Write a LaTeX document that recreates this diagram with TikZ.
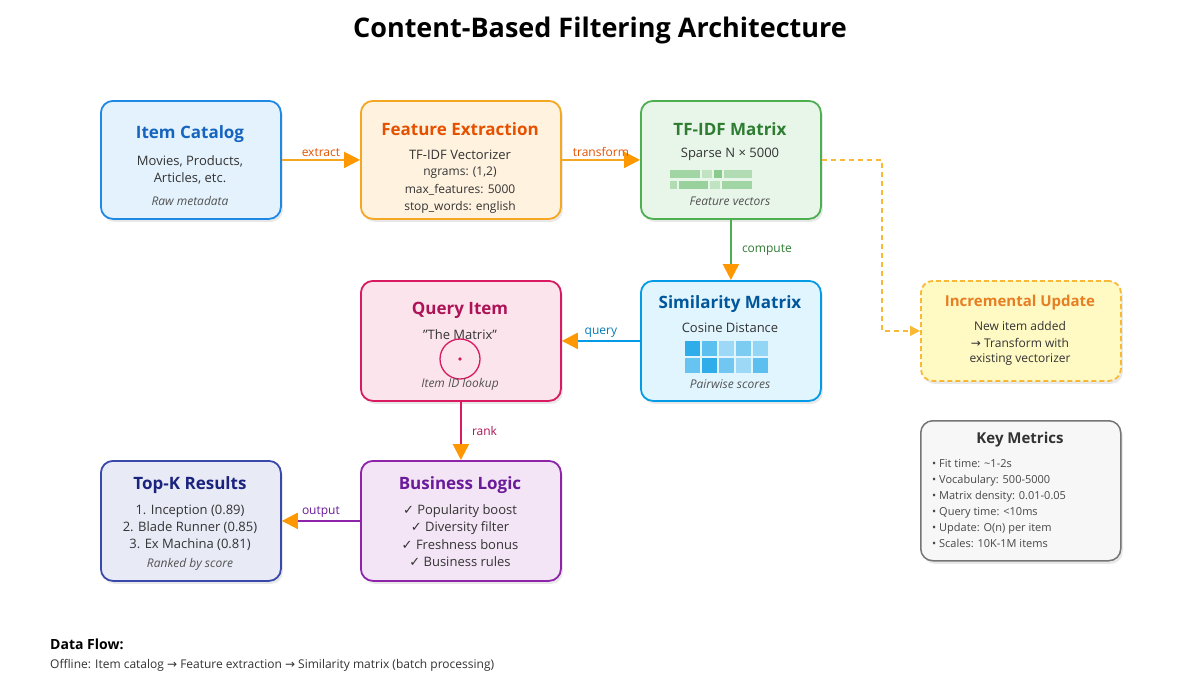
\documentclass[tikz,border=0pt]{standalone}
\usepackage{fontspec}
\setmainfont{Open Sans}
\newfontfamily\symfont{DejaVu Sans}
\newcommand{\arr}{{\symfont →}}
\newcommand{\chk}{{\symfont ✓}}
\usetikzlibrary{arrows.meta,positioning,shadows}

% ------------------------------------------------ theme colors
\definecolor{cb_blue}{HTML}{1E88E5}   \definecolor{cb_bluef}{HTML}{E3F2FD}  \definecolor{cb_bluet}{HTML}{1565C0}
\definecolor{cb_orange}{HTML}{F5A623} \definecolor{cb_orangef}{HTML}{FFF3E0}\definecolor{cb_oranget}{HTML}{E65100}
\definecolor{cb_green}{HTML}{4CAF50}  \definecolor{cb_greenf}{HTML}{E8F5E9} \definecolor{cb_greent}{HTML}{2E7D32}
\definecolor{cb_sky}{HTML}{039BE5}    \definecolor{cb_skyf}{HTML}{E1F5FE}   \definecolor{cb_skyt}{HTML}{01579B}
\definecolor{cb_pink}{HTML}{D81B60}   \definecolor{cb_pinkf}{HTML}{FCE4EC}  \definecolor{cb_pinkt}{HTML}{AD1457}
\definecolor{cb_purple}{HTML}{8E24AA} \definecolor{cb_purplef}{HTML}{F3E5F5}\definecolor{cb_purplet}{HTML}{6A1B9A}
\definecolor{cb_indigo}{HTML}{3949AB} \definecolor{cb_indigof}{HTML}{E8EAF6}\definecolor{cb_indigot}{HTML}{1A237E}
\definecolor{cb_yellow}{HTML}{F9B934} \definecolor{cb_yellowf}{HTML}{FFF9C4}\definecolor{cb_yellowt}{HTML}{E67E22}
\definecolor{cb_gray}{HTML}{757575}   \definecolor{cb_grayf}{HTML}{F7F7F7}
\definecolor{cb_arrow}{HTML}{FF9800}
\definecolor{cb_text}{HTML}{333333}

\tikzset{
  box/.style={draw, rounded corners=12pt, line width=1.8pt, anchor=north west, inner sep=0pt,
    drop shadow={shadow xshift=2pt, shadow yshift=-3pt, opacity=0.18}},
  boxtitle/.style={font=\fontsize{17}{20}\selectfont\bfseries},
  boxline/.style={font=\fontsize{13}{15}\selectfont, text=cb_text, inner sep=0pt},
  boxsmall/.style={font=\fontsize{12}{14}\selectfont, text=cb_text, inner sep=0pt},
  boxnote/.style={font=\fontsize{12}{14}\selectfont\itshape, text=cb_text!85, inner sep=0pt},
  flow/.style={line width=2.2pt, -{Triangle[length=16pt,width=16pt,color=cb_arrow]}},
  flowlabel/.style={font=\fontsize{12}{14}\selectfont, inner sep=2pt},
}

\begin{document}
\begin{tikzpicture}[x=1pt,y=-1pt]
\useasboundingbox[fill=white] (0,0) rectangle (1200,675);

\node[font=\fontsize{27}{32}\selectfont\bfseries] (title) at (600,30) {Content-Based Filtering Architecture};

% ------------------------------------------------ boxes
\node[box, color=cb_blue, fill=cb_bluef, minimum width=180pt, minimum height=118pt] (catalog) at (100,100) {};
\node[box, color=cb_orange, fill=cb_orangef, minimum width=200pt, minimum height=118pt] (feature) at (360,100) {};
\node[box, color=cb_green, fill=cb_greenf, minimum width=180pt, minimum height=118pt] (tfidf) at (640,100) {};
\node[box, color=cb_sky, fill=cb_skyf, minimum width=180pt, minimum height=120pt] (simil) at (640,280) {};
\node[box, color=cb_pink, fill=cb_pinkf, minimum width=200pt, minimum height=120pt] (query) at (360,280) {};
\node[box, color=cb_purple, fill=cb_purplef, minimum width=200pt, minimum height=120pt] (logic) at (360,460) {};
\node[box, color=cb_indigo, fill=cb_indigof, minimum width=180pt, minimum height=120pt] (topk) at (100,460) {};
\node[box, color=cb_yellow, fill=cb_yellowf, dashed, dash pattern=on 5pt off 3pt, minimum width=200pt, minimum height=100pt] (update) at (920,280) {};
\node[box, color=cb_gray, fill=cb_grayf, line width=1.5pt, minimum width=200pt, minimum height=140pt] (metrics) at (920,420) {};

% ------------------------------------------------ box texts
\node[boxtitle, text=cb_bluet] (catalogT) at (190,134) {Item Catalog};
\node[boxline] (catalogA) at (190,161) {Movies, Products,};
\node[boxline] (catalogB) at (190,178) {Articles, etc.};
\node[boxnote] (catalogN) at (190,201) {Raw metadata};

\node[boxtitle, text=cb_oranget] (featureT) at (460,129) {Feature Extraction};
\node[boxline] (featureA) at (460,155) {TF-IDF Vectorizer};
\node[boxsmall] (featureB) at (460,173) {ngrams: (1,2)};
\node[boxsmall] (featureC) at (460,190) {max\_features: 5000};
\node[boxsmall] (featureD) at (460,207) {stop\_words: english};

\node[boxtitle, text=cb_greent] (tfidfT) at (730,129) {TF-IDF Matrix};
\node[boxline] (tfidfA) at (730,154) {Sparse N × 5000};
\foreach \xa/\xb/\yy/\op in {670/700/170/0.45, 702/712/170/0.25, 714/722/170/0.6, 724/752/170/0.35,
                             670/677/181/0.35, 679/708/181/0.5, 710/720/181/0.25, 722/752/181/0.45}
  \fill[cb_green, opacity=\op] (\xa,\yy) rectangle (\xb,\yy+8);
\node[boxnote] (tfidfN) at (730,201) {Feature vectors};

\node[boxtitle, text=cb_skyt] (similT) at (730,304) {Similarity Matrix};
\node[boxline] (similA) at (730,328) {Cosine Distance};
\foreach \i/\op in {0/0.8,1/0.6,2/0.3,3/0.45,4/0.35}
  \fill[cb_sky, opacity=\op] (685+\i*17,341) rectangle (700+\i*17,356);
\foreach \i/\op in {0/0.55,1/0.8,2/0.5,3/0.3,4/0.6}
  \fill[cb_sky, opacity=\op] (685+\i*17,358) rectangle (700+\i*17,373);
\node[boxnote] (similN) at (730,384) {Pairwise scores};

\node[boxtitle, text=cb_pinkt] (queryT) at (460,310) {Query Item};
\node[boxline] (queryA) at (460,335) {\char34 The Matrix\char34};
\draw[cb_pink, line width=1.3pt] (460,359) circle (20);
\fill[cb_pink] (460,359) circle (1.8);
\node[boxnote] (queryN) at (460,384) {Item ID lookup};

\node[boxtitle, text=cb_purplet] (logicT) at (460,485) {Business Logic};
\node[boxline] (logicA) at (460,511) {\chk{} Popularity boost};
\node[boxline] (logicB) at (460,528) {\chk{} Diversity filter};
\node[boxline] (logicC) at (460,545) {\chk{} Freshness bonus};
\node[boxline] (logicD) at (460,562) {\chk{} Business rules};

\node[boxtitle, text=cb_indigot] (topkT) at (190,485) {Top-K Results};
\node[boxline] (topkA) at (190,511) {1. Inception (0.89)};
\node[boxline] (topkB) at (190,528) {2. Blade Runner (0.85)};
\node[boxline] (topkC) at (190,545) {3. Ex Machina (0.81)};
\node[boxnote] (topkN) at (190,564) {Ranked by score};

\node[font=\fontsize{15}{18}\selectfont\bfseries, text=cb_yellowt] (updateT) at (1020,303) {Incremental Update};
\node[boxsmall] (updateA) at (1020,326) {New item added};
\node[boxsmall] (updateB) at (1020,343) {\arr{} Transform with};
\node[boxsmall] (updateC) at (1020,360) {existing vectorizer};

\node[font=\fontsize{15}{18}\selectfont\bfseries, text=cb_text] (metricsT) at (1020,440) {Key Metrics};
\foreach \t [count=\k] in {Fit time: \textasciitilde1-2s, Vocabulary: 500-5000, Matrix density: 0.01-0.05,
                            Query time: <10ms, Update: O(n) per item, Scales: 10K-1M items}
  \node[font=\fontsize{11}{13}\selectfont, text=cb_text!90, anchor=base west, inner sep=0pt] (metric\k) at (932,451+\k*16) {• \t};

% ------------------------------------------------ connectors
\draw[flow, cb_orange] (catalog.east) -- node[flowlabel, above, text=cb_oranget] {extract} (feature.west);
\draw[flow, cb_orange] (feature.east) -- node[flowlabel, above, text=cb_oranget] {transform} (tfidf.west);
\draw[flow, cb_green] (tfidf.south) -- node[flowlabel, right=8pt, text=cb_greent] {compute} (simil.north);
\draw[flow, cb_sky] (simil.west) -- node[flowlabel, above, text=cb_sky!80!black] {query} (query.east);
\draw[flow, cb_pink] (query.south) -- node[flowlabel, right=8pt, text=cb_pinkt] {rank} (logic.north);
\draw[flow, cb_purple] (logic.west) -- node[flowlabel, above, text=cb_purplet] {output} (topk.east);
\draw[cb_yellow, line width=1.6pt, dashed, dash pattern=on 5pt off 4pt, -{Triangle[length=10pt,width=10pt]}]
  (tfidf.east) -- ++(60,0) |- (update.west);

% ------------------------------------------------ footer
\node[font=\fontsize{14}{16}\selectfont\bfseries, anchor=west, inner sep=0pt] (flowT) at (50,644) {Data Flow:};
\node[font=\fontsize{12}{14}\selectfont, anchor=west, inner sep=0pt, text=cb_text] (flowA) at (50,665) {Offline: Item catalog \arr{} Feature extraction \arr{} Similarity matrix (batch processing)};

\end{tikzpicture}
\end{document}
